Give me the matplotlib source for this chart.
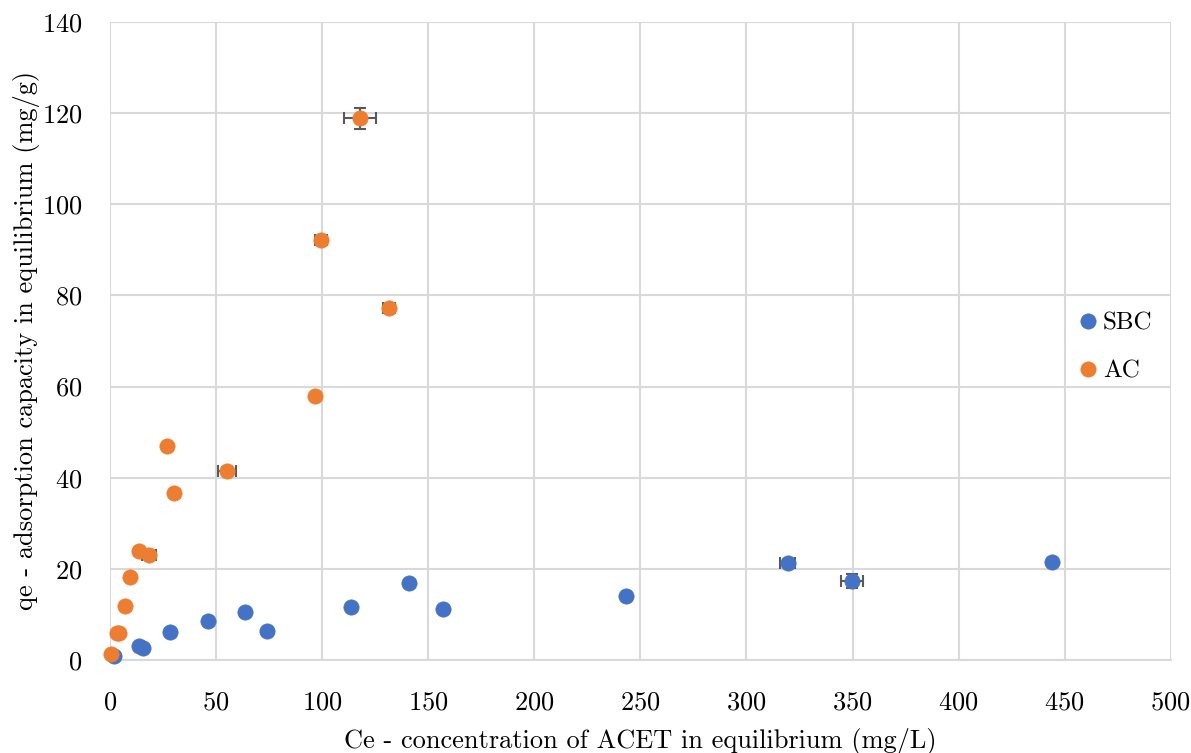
import matplotlib
matplotlib.use("Agg")
import matplotlib.pyplot as plt

plt.rcParams["font.family"] = ["cmr10", "DejaVu Serif"]
plt.rcParams["axes.formatter.use_mathtext"] = True
plt.rcParams["mathtext.fontset"] = "cm"

# SBC series
sbc_ce = [1.9, 13.7, 15.5, 28.3, 46.2, 63.6, 74.0, 113.6, 140.9, 156.9, 243.2, 319.5, 349.7, 443.9]
sbc_qe = [0.9, 3.1, 2.6, 6.1, 8.6, 10.5, 6.4, 11.6, 16.9, 11.2, 14.0, 21.3, 17.3, 21.5]
sbc_xerr = [0, 0, 0, 1.2, 0, 0, 0, 0, 0, 0, 0, 3.6, 5.0, 0]
sbc_yerr = [0, 0, 0, 0.6, 0, 0, 0, 0, 0, 0, 0, 0.6, 1.6, 0]

# AC series
ac_ce = [0.5, 3.3, 4.2, 7.1, 9.4, 13.7, 18.4, 26.9, 30.2, 55.1, 96.6, 99.4, 117.8, 131.5]
ac_qe = [1.3, 5.9, 5.9, 11.9, 18.2, 23.9, 23.1, 47.0, 36.6, 41.5, 57.9, 92.2, 118.9, 77.3]
ac_xerr = [0, 0, 0, 0, 0, 0, 3.3, 0, 0, 4.4, 0, 3.0, 7.6, 3.0]
ac_yerr = [0, 0, 0, 0, 0, 0, 0.5, 0, 0, 0.8, 0, 0.6, 2.3, 0.8]

series = [
    ("SBC", sbc_ce, sbc_qe, sbc_xerr, sbc_yerr, "#4472C4"),
    ("AC", ac_ce, ac_qe, ac_xerr, ac_yerr, "#ED7D31"),
]

fig = plt.figure(figsize=(11.91, 7.53), dpi=100)
ax = fig.add_axes([0.0924, 0.1235, 0.8906, 0.8475])

for name, x, y, xe, ye, color in series:
    ax.errorbar(x, y, xerr=xe, yerr=ye, fmt="none", ecolor="#595959",
                elinewidth=1.5, capsize=4, capthick=1.5, zorder=2, clip_on=False)
    ax.plot(x, y, "o", color=color, ms=11, mec=color, mew=0.5,
            label=name, zorder=3, clip_on=False)

ax.set_xlim(0, 500)
ax.set_ylim(0, 140)
ax.set_xticks(range(0, 501, 50))
ax.set_yticks(range(0, 141, 20))
ax.grid(True, color="#D9D9D9", linewidth=1.5)
ax.set_axisbelow(True)
for s in ["top", "right", "left"]:
    ax.spines[s].set_visible(False)
ax.spines["bottom"].set_color("#D9D9D9")
ax.spines["bottom"].set_linewidth(1.5)
ax.tick_params(axis="x", length=0, labelsize=19, pad=22)
ax.tick_params(axis="y", length=0, labelsize=19, pad=20)

ax.set_xlabel("Ce - concentration of ACET in equilibrium (mg/L)", fontsize=19, labelpad=10)
ax.set_ylabel("qe - adsorption capacity in equilibrium (mg/g)", fontsize=19, labelpad=1)

ax.legend(loc="center left", bbox_to_anchor=(0.889, 0.49), frameon=False,
          fontsize=18, handletextpad=0.1, labelspacing=1.0, markerscale=1.0,
          handlelength=1.0)

fig.savefig("out.png", dpi=100)
